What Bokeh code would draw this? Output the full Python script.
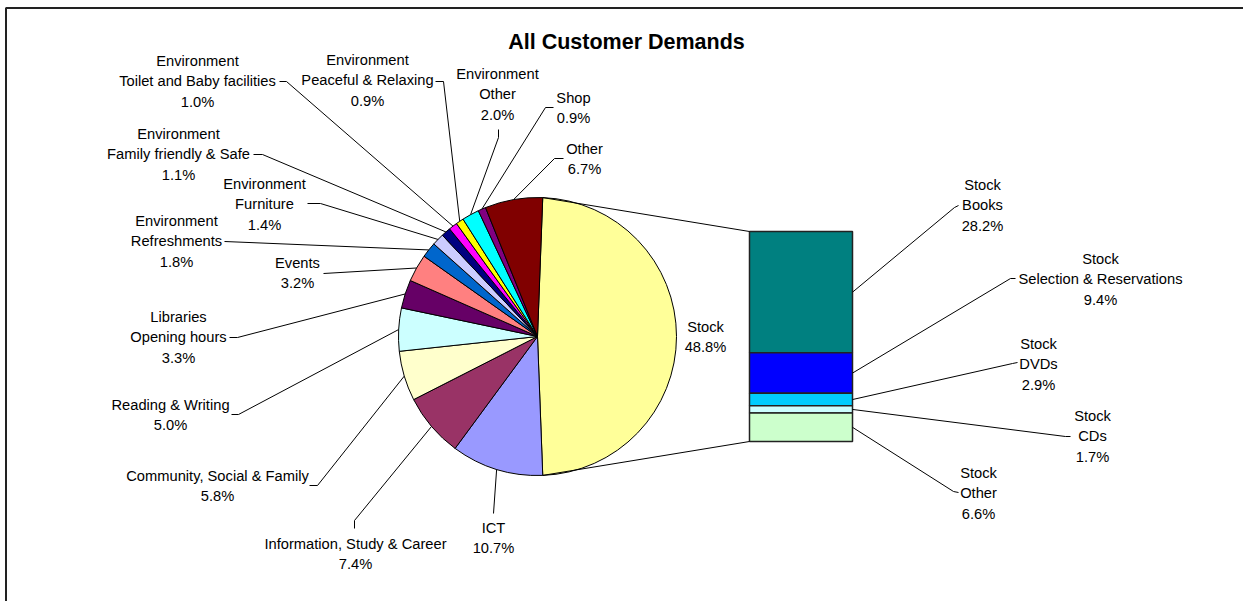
import math
from bokeh.plotting import figure
from bokeh.models import Range1d, ColumnDataSource
from bokeh.core.properties import value
from bokeh.embed import file_html
from bokeh.resources import INLINE

# ---------------- data ----------------
categories = ["Stock", "ICT", "Information, Study & Career", "Community, Social & Family",
              "Reading & Writing", "Libraries\nOpening hours", "Events",
              "Environment\nRefreshments", "Environment\nFurniture",
              "Environment\nFamily friendly & Safe", "Environment\nToilet and Baby facilities",
              "Environment\nPeaceful & Relaxing", "Environment\nOther", "Shop", "Other"]
values = [48.8, 10.7, 7.4, 5.8, 5.0, 3.3, 3.2, 1.8, 1.4, 1.1, 1.0, 0.9, 2.0, 0.9, 6.7]

stock_categories = ["Stock\nBooks", "Stock\nSelection & Reservations", "Stock\nDVDs",
                    "Stock\nCDs", "Stock\nOther"]
stock_values = [28.2, 9.4, 2.9, 1.7, 6.6]

title = "All Customer Demands"

# ---------------- styles / layout ----------------
pie_colors = ["#FFFF99", "#9999FF", "#993366", "#FFFFCC", "#CCFFFF", "#660066", "#FF8080",
              "#0066CC", "#CCCCFF", "#000080", "#FF00FF", "#FFFF00", "#00FFFF", "#800080",
              "#800000"]
bar_colors = ["#008080", "#0000FF", "#00CCFF", "#CCFFFF", "#CCFFCC"]

# label layout: (center x, first line y, leader points near text) in image pixels
pie_label_layout = [
    (705, 326, []),
    (493, 527, [(493, 513)]),
    (355, 543, [(354, 528), (354, 520)]),
    (217, 475, [(309, 485), (317, 485)]),
    (170, 404, [(231, 414), (238, 414)]),
    (178, 316, [(229, 337), (237, 337)]),
    (297, 262, [(323, 273)]),
    (176, 220, [(224, 241)]),
    (264, 183, [(307, 203), (320, 203)]),
    (178, 133, [(253, 154), (262, 154)]),
    (197, 60, [(279, 81), (286, 81)]),
    (367, 59, [(435, 81), (443, 81)]),
    (497, 73, [(498, 129), (498, 137)]),
    (573, 97, [(553, 107), (545, 107)]),
    (584, 148, [(563, 158), (554, 158)]),
]
bar_label_layout = [
    (982, 184, [(958, 205), (954, 207)]),
    (1100, 258, [(1015, 278), (1010, 278)]),
    (1038, 343, [(1017, 362), (1012, 363)]),
    (1092, 415, [(1070, 436), (1065, 436)]),
    (978, 472, [(958, 492), (953, 491)]),
]

W, H = 1243, 601
PCX, PCY, PR = 537, 336, 139          # pie centre / radius (image px)
BAR_L, BAR_R, BAR_TOP, BAR_H = 749, 852, 231, 210
LINE_H = 20.8
FONT = value("Liberation Sans")
FS = "14.7px"


def Y(img_y):
    return H - img_y


p = figure(width=W, height=H, output_backend="svg", toolbar_location=None,
           x_range=Range1d(0, W), y_range=Range1d(0, H),
           x_axis_type=None, y_axis_type=None, min_border=0)
p.outline_line_color = None
p.grid.visible = False
p.background_fill_color = "white"

# frame (left + top visible)
p.line([5.5, 5.5, 1300], [Y(700), Y(7.5), Y(7.5)], line_color="#222222", line_width=2)

# ---------------- pie ----------------
total = sum(values)
start_cw = 90 - values[0] / total * 360 / 2   # Stock centred on 3 o'clock
starts, ends, mids = [], [], []
a = start_cw
for v in values:
    span = v / total * 360
    starts.append(a)
    ends.append(a + span)
    mids.append(a + span / 2)
    a += span

pie_src = ColumnDataSource(dict(
    start=[math.radians(90 - e) for e in ends],
    end=[math.radians(90 - s) for s in starts],
    color=pie_colors,
))
p.wedge(x=PCX, y=Y(PCY), radius=PR, start_angle="start", end_angle="end",
        fill_color="color", line_color="black", line_width=1, source=pie_src)


def pie_pt(theta_cw, r=PR):
    t = math.radians(theta_cw)
    return PCX + r * math.sin(t), PCY - r * math.cos(t)


# ---------------- stacked bar ----------------
stock_total = sum(stock_values)
tops, bottoms = [], []
cur = BAR_TOP
for v in stock_values:
    h = v / stock_total * BAR_H
    tops.append(Y(cur))
    bottoms.append(Y(cur + h))
    cur += h
p.quad(left=BAR_L, right=BAR_R, top=tops, bottom=bottoms, fill_color=bar_colors,
       line_color="#222222", line_width=1.5)

# connectors pie -> bar
tx, ty = pie_pt(starts[0])
bx, by = pie_pt(ends[0])
p.multi_line(xs=[[tx, BAR_L], [bx, BAR_L]],
             ys=[[Y(ty), Y(BAR_TOP)], [Y(by), Y(BAR_TOP + BAR_H)]],
             line_color="black", line_width=1)

# ---------------- labels ----------------
tx_l, ty_l, tt_l = [], [], []
lxs, lys = [], []

for i, (cat, v) in enumerate(zip(categories, values)):
    cx, y0, pts = pie_label_layout[i]
    lines = cat.split("\n") + [f"{v:.1f}%"]
    for k, ln in enumerate(lines):
        tx_l.append(cx)
        ty_l.append(Y(y0 + k * LINE_H))
        tt_l.append(ln)
    if pts:
        ex, ey = pie_pt(mids[i])
        xs = [q[0] for q in pts] + [ex]
        ys = [Y(q[1]) for q in pts] + [Y(ey)]
        lxs.append(xs)
        lys.append(ys)

cur = BAR_TOP
for i, (cat, v) in enumerate(zip(stock_categories, stock_values)):
    h = v / stock_total * BAR_H
    mid = cur + h / 2
    cur += h
    cx, y0, pts = bar_label_layout[i]
    lines = cat.split("\n") + [f"{v:.1f}%"]
    for k, ln in enumerate(lines):
        tx_l.append(cx)
        ty_l.append(Y(y0 + k * LINE_H))
        tt_l.append(ln)
    xs = [q[0] for q in pts] + [BAR_R]
    ys = [Y(q[1]) for q in pts] + [Y(mid)]
    lxs.append(xs)
    lys.append(ys)

p.multi_line(xs=lxs, ys=lys, line_color="black", line_width=1)
p.text(x=tx_l, y=ty_l, text=tt_l, text_align="center", text_baseline="middle",
       text_font=FONT, text_font_size=FS, text_color="black")

# title
p.text(x=[626], y=[Y(41)], text=[title], text_align="center", text_baseline="middle",
       text_font=FONT, text_font_size="21.5px", text_font_style="bold", text_color="black")

open("out.html", "w").write(file_html(p, INLINE))
